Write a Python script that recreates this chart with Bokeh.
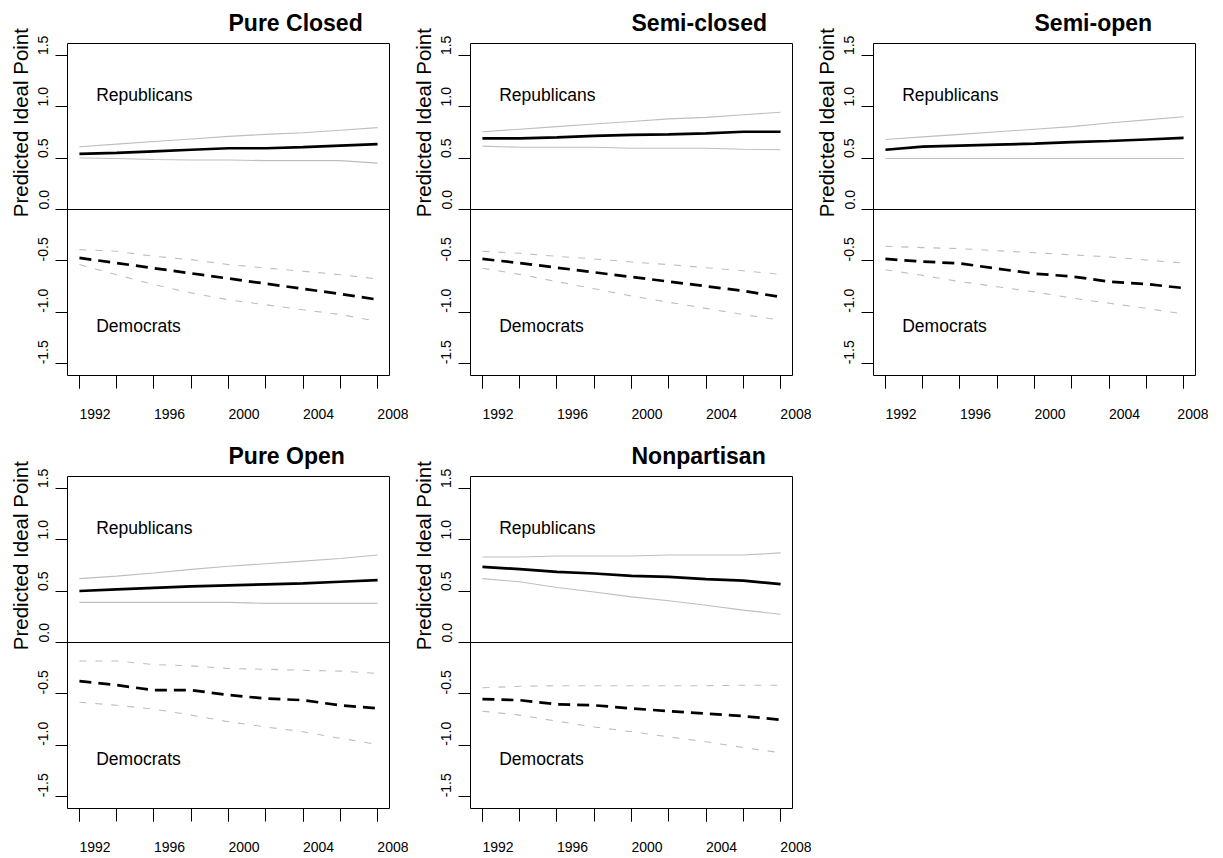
import math
from bokeh.plotting import figure
from bokeh.layouts import column, row
from bokeh.models import Label, Range1d, FixedTicker, Span, Title, AllLabels
from bokeh.embed import file_html
from bokeh.resources import INLINE

# ---------------- data ----------------
years = [1991, 1993, 1995, 1997, 1999, 2001, 2003, 2005, 2007]
x_label_years = [1992, 1996, 2000, 2004, 2008]
y_ticks = [-1.5, -1.0, -0.5, 0.0, 0.5, 1.0, 1.5]
y_tick_labels = ["-1.5", "-1.0", "-0.5", "0.0", "0.5", "1.0", "1.5"]
panel_titles = ["Pure Closed", "Semi-closed", "Semi-open", "Pure Open", "Nonpartisan"]
y_title = "Predicted Ideal Point"
rep_text = "Republicans"
dem_text = "Democrats"

# Pure Closed
pc_rep_mean = [0.54, 0.55, 0.565, 0.58, 0.595, 0.595, 0.605, 0.62, 0.635]
pc_rep_hi = [0.61, 0.635, 0.66, 0.685, 0.71, 0.73, 0.745, 0.77, 0.795]
pc_rep_lo = [0.50, 0.495, 0.485, 0.48, 0.48, 0.475, 0.475, 0.475, 0.45]
pc_dem_mean = [-0.47, -0.52, -0.57, -0.62, -0.67, -0.72, -0.77, -0.82, -0.875]
pc_dem_hi = [-0.39, -0.405, -0.455, -0.487, -0.535, -0.568, -0.60, -0.633, -0.675]
pc_dem_lo = [-0.535, -0.633, -0.73, -0.81, -0.877, -0.925, -0.974, -1.02, -1.087]

# Semi-closed
sc_rep_mean = [0.69, 0.69, 0.70, 0.715, 0.725, 0.73, 0.74, 0.755, 0.755]
sc_rep_hi = [0.755, 0.78, 0.805, 0.83, 0.855, 0.88, 0.895, 0.92, 0.945]
sc_rep_lo = [0.615, 0.605, 0.605, 0.605, 0.595, 0.595, 0.595, 0.585, 0.58]
sc_dem_mean = [-0.48, -0.52, -0.565, -0.61, -0.655, -0.70, -0.745, -0.79, -0.85]
sc_dem_hi = [-0.405, -0.425, -0.455, -0.48, -0.51, -0.535, -0.565, -0.595, -0.63]
sc_dem_lo = [-0.57, -0.63, -0.70, -0.77, -0.84, -0.90, -0.96, -1.02, -1.075]

# Semi-open
so_rep_mean = [0.58, 0.61, 0.62, 0.63, 0.64, 0.655, 0.665, 0.68, 0.695]
so_rep_hi = [0.68, 0.705, 0.73, 0.755, 0.78, 0.805, 0.84, 0.87, 0.90]
so_rep_lo = [0.495, 0.495, 0.495, 0.495, 0.495, 0.495, 0.495, 0.495, 0.495]
so_dem_mean = [-0.48, -0.506, -0.523, -0.575, -0.623, -0.65, -0.70, -0.724, -0.763]
so_dem_hi = [-0.357, -0.37, -0.38, -0.40, -0.42, -0.44, -0.46, -0.49, -0.52]
so_dem_lo = [-0.585, -0.64, -0.70, -0.75, -0.80, -0.86, -0.91, -0.96, -1.015]

# Pure Open
po_rep_mean = [0.50, 0.515, 0.53, 0.545, 0.555, 0.565, 0.575, 0.59, 0.605]
po_rep_hi = [0.62, 0.645, 0.675, 0.71, 0.74, 0.765, 0.79, 0.815, 0.85]
po_rep_lo = [0.39, 0.39, 0.39, 0.39, 0.39, 0.38, 0.38, 0.38, 0.38]
po_dem_mean = [-0.375, -0.414, -0.463, -0.463, -0.51, -0.544, -0.56, -0.61, -0.64]
po_dem_hi = [-0.18, -0.18, -0.214, -0.227, -0.252, -0.26, -0.27, -0.278, -0.30]
po_dem_lo = [-0.58, -0.61, -0.647, -0.705, -0.77, -0.82, -0.867, -0.93, -0.99]

# Nonpartisan
np_rep_mean = [0.735, 0.712, 0.686, 0.67, 0.647, 0.637, 0.615, 0.60, 0.566]
np_rep_hi = [0.83, 0.83, 0.84, 0.84, 0.84, 0.85, 0.85, 0.85, 0.87]
np_rep_lo = [0.62, 0.59, 0.534, 0.49, 0.443, 0.405, 0.362, 0.314, 0.275]
np_dem_mean = [-0.55, -0.56, -0.60, -0.61, -0.64, -0.667, -0.69, -0.715, -0.75]
np_dem_hi = [-0.44, -0.425, -0.42, -0.42, -0.42, -0.42, -0.42, -0.415, -0.415]
np_dem_lo = [-0.667, -0.705, -0.764, -0.82, -0.867, -0.916, -0.964, -1.02, -1.07]

# ---------------- styling ----------------
FONT = "Liberation Sans"
FW, FH = 322, 332
GRAY = "#BEBEBE"
NB = "\u00a0"
X0, X1 = 1990.36, 2007.64
Y0, Y1 = -1.612, 1.612


def make_panel(title, rep_m, rep_hi, rep_lo, dem_m, dem_hi, dem_lo,
               left, right, top, bottom):
    p = figure(frame_width=FW, frame_height=FH,
               x_range=Range1d(X0, X1), y_range=Range1d(Y0, Y1),
               output_backend="svg", toolbar_location=None,
               min_border_left=left, min_border_right=right,
               min_border_top=top, min_border_bottom=bottom,
               background_fill_color="white", border_fill_color="white")
    p.outline_line_color = "black"
    p.outline_line_width = 1
    p.outline_line_alpha = 1
    p.xgrid.visible = False
    p.ygrid.visible = False

    # title (left-aligned, shifted to x = 1999)
    p.title.text = title
    p.title.align = "left"
    p.title.offset = (1999 - X0) * FW / (X1 - X0)
    p.title.text_font = FONT
    p.title.text_font_size = "23px"
    p.title.text_font_style = "bold"
    p.title.text_color = "black"
    p.title.standoff = 15

    # x axis: ticks every two years, labels between ticks
    xa = p.xaxis[0]
    label_ticks = [y - 1 for y in x_label_years]
    xa.ticker = FixedTicker(ticks=label_ticks, minor_ticks=years)
    xa.major_label_overrides = {t: NB * 8 + str(t + 1) for t in label_ticks}
    xa.major_label_policy = AllLabels()
    xa.major_label_text_font = FONT
    xa.major_label_text_font_size = "14px"
    xa.major_label_text_color = "black"
    xa.major_label_standoff = 17
    xa.major_tick_out = 13
    xa.major_tick_in = 0
    xa.minor_tick_out = 13
    xa.minor_tick_in = 0
    xa.minor_tick_line_color = "black"
    xa.major_tick_line_color = "black"
    xa.axis_line_color = None

    # y axis: vertical labels starting at the tick
    ya = p.yaxis[0]
    ya.ticker = FixedTicker(ticks=y_ticks)
    pads = {}
    for v, lab in zip(y_ticks, y_tick_labels):
        pads[v] = NB * (6 if lab.startswith("-") else 5) + lab
    ya.major_label_overrides = pads
    ya.major_label_policy = AllLabels()
    ya.major_label_orientation = "vertical"
    ya.major_label_text_font = FONT
    ya.major_label_text_font_size = "14px"
    ya.major_label_text_color = "black"
    ya.major_label_standoff = 4
    ya.major_tick_out = 12
    ya.major_tick_in = 0
    ya.minor_tick_out = 0
    ya.minor_tick_in = 0
    ya.major_tick_line_color = "black"
    ya.axis_line_color = None

    # y title, starting just below zero
    ytitle = Title(text=y_title, align="left",
                   offset=(-0.075 - Y0) * FH / (Y1 - Y0),
                   text_font=FONT, text_font_size="20.5px", text_font_style="normal",
                   text_color="black", standoff=2)
    p.add_layout(ytitle, "left")

    p.add_layout(Span(location=0, dimension="width", line_color="black", line_width=1))

    # confidence bands
    p.line(years, rep_hi, line_color=GRAY, line_width=1.1)
    p.line(years, rep_lo, line_color=GRAY, line_width=1.1)
    p.line(years, dem_hi, line_color=GRAY, line_width=1.1, line_dash="7 9")
    p.line(years, dem_lo, line_color=GRAY, line_width=1.1, line_dash="7 9")
    # means
    p.line(years, rep_m, line_color="black", line_width=2.7)
    p.line(years, dem_m, line_color="black", line_width=2.7, line_dash="12 7")

    # in-plot texts
    p.add_layout(Label(x=1991.9, y=1.115, text=rep_text, text_align="left",
                       text_baseline="alphabetic", text_font=FONT, text_font_size="17.5px",
                       text_color="black"))
    p.add_layout(Label(x=1991.9, y=-1.135, text=dem_text, text_align="left",
                       text_baseline="alphabetic", text_font=FONT, text_font_size="17.5px",
                       text_color="black"))
    return p


p1 = make_panel(panel_titles[0], pc_rep_mean, pc_rep_hi, pc_rep_lo, pc_dem_mean, pc_dem_hi, pc_dem_lo, 67, 19, 41, 58)
p2 = make_panel(panel_titles[1], sc_rep_mean, sc_rep_hi, sc_rep_lo, sc_dem_mean, sc_dem_hi, sc_dem_lo, 62, 19, 41, 58)
p3 = make_panel(panel_titles[2], so_rep_mean, so_rep_hi, so_rep_lo, so_dem_mean, so_dem_hi, so_dem_lo, 62, 13, 41, 58)
p4 = make_panel(panel_titles[3], po_rep_mean, po_rep_hi, po_rep_lo, po_dem_mean, po_dem_hi, po_dem_lo, 67, 19, 41, 49)
p5 = make_panel(panel_titles[4], np_rep_mean, np_rep_hi, np_rep_lo, np_dem_mean, np_dem_hi, np_dem_lo, 62, 19, 41, 49)

layout = column(row(p1, p2, p3), row(p4, p5))

open("out.html", "w").write(file_html(layout, INLINE))
